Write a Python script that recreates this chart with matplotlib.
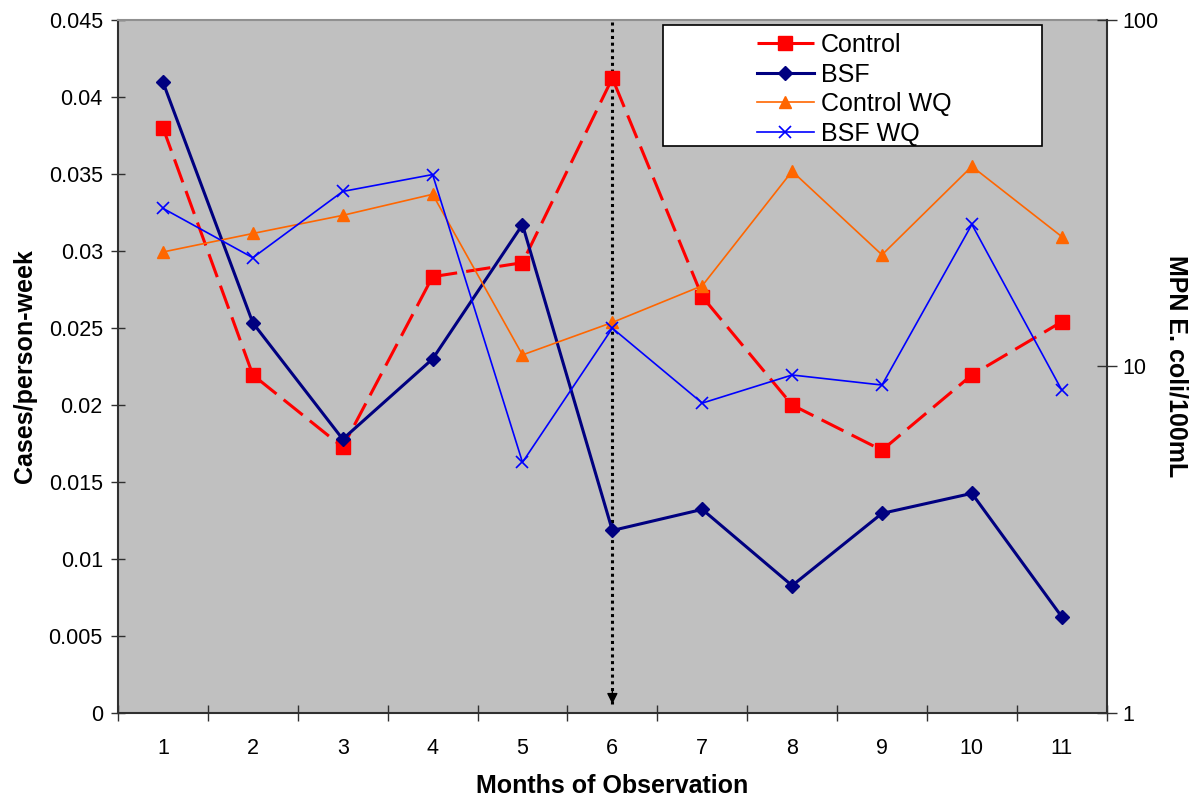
import matplotlib.pyplot as plt
import matplotlib.patches as mpatches
from matplotlib.ticker import FixedLocator, NullLocator, FixedFormatter

plt.rcParams['font.family'] = ['Liberation Sans', 'DejaVu Sans']

# data
months = [1, 2, 3, 4, 5, 6, 7, 8, 9, 10, 11]
control = [0.0380, 0.02195, 0.01726, 0.02833, 0.02924, 0.04122, 0.02703, 0.0200, 0.01706, 0.02195, 0.0254]
bsf = [0.04096, 0.02533, 0.01778, 0.02299, 0.03171, 0.01185, 0.01322, 0.00827, 0.01296, 0.01426, 0.00625]
control_wq = [21.4, 24.2, 27.3, 31.4, 10.8, 13.4, 17.1, 36.6, 21.0, 37.8, 23.7]
bsf_wq = [28.6, 20.6, 32.0, 35.8, 5.29, 12.9, 7.84, 9.45, 8.84, 25.7, 8.55]
left_ticks = [0, 0.005, 0.01, 0.015, 0.02, 0.025, 0.03, 0.035, 0.04, 0.045]
left_labels = ['0', '0.005', '0.01', '0.015', '0.02', '0.025', '0.03', '0.035', '0.04', '0.045']
right_ticks = [1, 10, 100]
intervention_month = 6

fig = plt.figure(figsize=(12.02, 7.96), dpi=100)
ax = fig.add_axes([0.0982, 0.1043, 0.8225, 0.8706])
ax2 = ax.twinx()
ax.set_facecolor('#C0C0C0')

fs = 15.5
lfs = 18
l1, = ax.plot(months, control, color='#FF0000', lw=2.2, dashes=(8, 3),
              marker='s', ms=10, label='Control', zorder=3)
l2, = ax.plot(months, bsf, color='#000080', lw=2.2,
              marker='D', ms=7, label='BSF', zorder=3)
l3, = ax2.plot(months, control_wq, color='#FF6600', lw=1.2,
               marker='^', ms=8, label='Control WQ')
l4, = ax2.plot(months, bsf_wq, color='#0000FF', lw=1.2,
               marker='x', ms=8, mew=1.2, label='BSF WQ')

# intervention marker
ax.vlines(intervention_month, 0.0006, 0.045, colors='black', linestyles=(0, (1, 1.2)), lw=2.2, zorder=2)
ax.annotate('', xy=(intervention_month, 0.0004), xytext=(intervention_month, 0.0016),
            arrowprops=dict(arrowstyle='-|>', color='black', lw=1, mutation_scale=16), zorder=2)

ax.set_xlim(0.5, 11.5)
ax.set_ylim(0, 0.045)
ax2.set_yscale('log')
ax2.set_ylim(1, 100)

ax.xaxis.set_major_locator(FixedLocator([m - 0.5 for m in months] + [11.5]))
ax.xaxis.set_major_formatter(FixedFormatter([]))
ax.xaxis.set_minor_locator(FixedLocator(months))
ax.xaxis.set_minor_formatter(FixedFormatter([str(m) for m in months]))
ax.tick_params(axis='x', which='major', direction='inout', length=12, width=1, colors='#303030')
ax.tick_params(axis='x', which='minor', length=0, pad=18, labelsize=fs, labelcolor='black')

ax.set_yticks(left_ticks)
ax.set_yticklabels(left_labels)
ax.tick_params(axis='y', direction='inout', length=10, width=1, labelsize=fs, pad=6, colors='#303030', labelcolor='black')

ax2.yaxis.set_major_locator(FixedLocator(right_ticks))
ax2.yaxis.set_major_formatter(FixedFormatter(['1', '10', '100']))
ax2.yaxis.set_minor_locator(NullLocator())
ax2.tick_params(axis='y', direction='inout', length=14, width=1, labelsize=fs, pad=4, colors='#303030', labelcolor='black')

for s in ['left', 'bottom']:
    ax.spines[s].set_color('#303030')
    ax.spines[s].set_linewidth(1.5)
ax.spines['top'].set_color('#909090')
ax.spines['top'].set_linewidth(1.5)
ax.spines['right'].set_visible(False)
for s in ['left', 'bottom', 'top']:
    ax2.spines[s].set_visible(False)
ax2.spines['right'].set_color('#303030')
ax2.spines['right'].set_linewidth(1.5)

ax.set_xlabel('Months of Observation', fontsize=lfs, fontweight='bold', labelpad=11)
ax.set_ylabel('Cases/person-week', fontsize=lfs, fontweight='bold', labelpad=8)
ax2.set_ylabel('MPN E. coli/100mL', fontsize=lfs, fontweight='bold', rotation=270, labelpad=22)

# legend box
rect = mpatches.Rectangle((0.551, 0.818), 0.384, 0.175, transform=ax2.transAxes,
                          facecolor='white', edgecolor='black', lw=1.2, zorder=4)
ax2.add_patch(rect)
ax2.legend(handles=[l1, l2, l3, l4], loc='upper left', bbox_to_anchor=(0.646, 0.981),
           frameon=False, fontsize=lfs, handlelength=2.3, handletextpad=0.28,
           labelspacing=0.22, borderpad=0, borderaxespad=0)

fig.savefig('out.png', dpi=100)
